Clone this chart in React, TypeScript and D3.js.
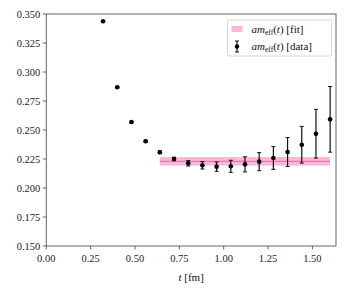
import React from "react";
import * as d3 from "d3";

// effective mass data
const tValues = [0.32, 0.4, 0.48, 0.56, 0.64, 0.72, 0.8, 0.88, 0.96, 1.04, 1.12, 1.2, 1.28, 1.36, 1.44, 1.52, 1.6];
const meffValues = [0.3437, 0.2868, 0.2569, 0.2403, 0.2308, 0.225, 0.2213, 0.2196, 0.2184, 0.2187, 0.2204, 0.2227, 0.2259, 0.231, 0.2373, 0.2468, 0.2592];
const meffErrors = [0.0005, 0.0006, 0.0007, 0.0008, 0.0012, 0.0015, 0.0023, 0.0032, 0.004, 0.0052, 0.0065, 0.0078, 0.0098, 0.0125, 0.0158, 0.021, 0.0283];

const fitRange = [0.64, 1.6];
const fitValue = [0.223];
const fitError = [0.0037];

const xTicks = [0, 0.25, 0.5, 0.75, 1.0, 1.25, 1.5];
const yTicks = [0.15, 0.175, 0.2, 0.225, 0.25, 0.275, 0.3, 0.325, 0.35];

const legendLabels = ["[fit]", "[data]"];

const font = "'Liberation Serif', 'DejaVu Serif', serif";

function MEffLabel({ x, y, tag }: { x: number; y: number; tag: string }) {
  return (
    <text x={x} y={y} fontFamily={font} fontSize={11} fill="#111">
      <tspan fontStyle="italic">am</tspan>
      <tspan fontSize={7.5} dy={2}>eff</tspan>
      <tspan dy={-2}>(</tspan>
      <tspan fontStyle="italic">t</tspan>
      <tspan>) {tag}</tspan>
    </text>
  );
}

export default function App() {
  const width = 347;
  const height = 293;
  const left = 46.3, right = 336, top = 14, bottom = 246;

  const x = d3.scaleLinear().domain([0, 1.633]).range([left, right]);
  const y = d3.scaleLinear().domain([0.15, 0.35]).range([bottom, top]);

  const points = tValues.map((t, i) => ({ t, v: meffValues[i], e: meffErrors[i] }));

  const bandTop = y(fitValue[0] + fitError[0]);
  const bandBot = y(fitValue[0] - fitError[0]);

  const axisColor = "#555";

  return (
    <svg width={width} height={height} style={{ position: "absolute", left: 0, top: 0, background: "#fff" }}>
      {/* fit band */}
      <rect x={x(fitRange[0])} y={bandTop} width={x(fitRange[1]) - x(fitRange[0])} height={bandBot - bandTop} fill="#fbb6d8" />
      <line x1={x(fitRange[0])} x2={x(fitRange[1])} y1={y(fitValue[0])} y2={y(fitValue[0])} stroke="#e0709f" strokeWidth={1} />

      {/* data with error bars */}
      {points.map((p, i) => (
        <g key={i}>
          <line x1={x(p.t)} x2={x(p.t)} y1={y(p.v - p.e)} y2={y(p.v + p.e)} stroke="#111" strokeWidth={1.2} />
          <line x1={x(p.t) - 2} x2={x(p.t) + 2} y1={y(p.v - p.e)} y2={y(p.v - p.e)} stroke="#111" strokeWidth={1} />
          <line x1={x(p.t) - 2} x2={x(p.t) + 2} y1={y(p.v + p.e)} y2={y(p.v + p.e)} stroke="#111" strokeWidth={1} />
          <circle cx={x(p.t)} cy={y(p.v)} r={2.3} fill="#000" />
        </g>
      ))}

      {/* frame */}
      <rect x={left} y={top} width={right - left} height={bottom - top} fill="none" stroke={axisColor} strokeWidth={0.9} />

      {/* y ticks */}
      {yTicks.map((v) => (
        <g key={v}>
          <line x1={left - 3.5} x2={left} y1={y(v)} y2={y(v)} stroke={axisColor} strokeWidth={0.9} />
          <text x={left - 6} y={y(v)} dy="0.35em" textAnchor="end" fontFamily={font} fontSize={10.5} fill="#222">
            {d3.format(".3f")(v)}
          </text>
        </g>
      ))}

      {/* x ticks */}
      {xTicks.map((v) => (
        <g key={v}>
          <line x1={x(v)} x2={x(v)} y1={bottom} y2={bottom + 3.5} stroke={axisColor} strokeWidth={0.9} />
          <text x={x(v)} y={bottom + 16} textAnchor="middle" fontFamily={font} fontSize={10.5} fill="#222">
            {d3.format(".2f")(v)}
          </text>
        </g>
      ))}

      {/* x label */}
      <text x={(left + right) / 2} y={281} textAnchor="middle" fontFamily={font} fontSize={11} fill="#111">
        <tspan fontStyle="italic">t</tspan>
        <tspan> [fm]</tspan>
      </text>

      {/* legend */}
      <rect x={227.5} y={20} width={104} height={36} fill="#fff" stroke="#ccc" strokeWidth={0.8} rx={1.5} />
      <rect x={231.5} y={26} width={11} height={6} fill="#fbb6d8" />
      <MEffLabel x={251.5} y={32.5} tag={legendLabels[0]} />

      <line x1={237} x2={237} y1={41} y2={52} stroke="#111" strokeWidth={1.2} />
      <line x1={235} x2={239} y1={41} y2={41} stroke="#111" strokeWidth={1} />
      <line x1={235} x2={239} y1={52} y2={52} stroke="#111" strokeWidth={1} />
      <circle cx={237} cy={46.5} r={2.2} fill="#000" />
      <MEffLabel x={251.5} y={49.5} tag={legendLabels[1]} />
    </svg>
  );
}
